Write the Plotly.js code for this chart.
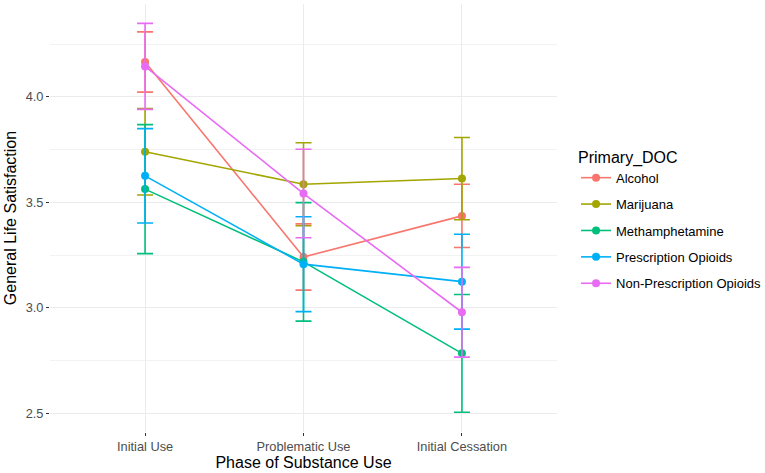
<!DOCTYPE html>
<html>
<head>
<meta charset="utf-8">
<script src="https://cdn.plot.ly/plotly-3.0.1.min.js"></script>
<style>
  html, body { margin: 0; padding: 0; background: #fff; }
  #chart { width: 765px; height: 473px; }
</style>
</head>
<body>
<div id="chart"></div>
<script>
var phases = ['Initial Use', 'Problematic Use', 'Initial Cessation'];

var alcohol = [4.166, 3.241, 3.436];
var alcoholErr = [0.143, 0.157, 0.150];
var marijuana = [3.740, 3.586, 3.613];
var marijuanaErr = [0.205, 0.197, 0.195];
var meth = [3.563, 3.218, 2.784];
var methErr = [0.306, 0.281, 0.279];
var rxOpioids = [3.626, 3.207, 3.124];
var rxOpioidsErr = [0.224, 0.225, 0.225];
var nonRxOpioids = [4.145, 3.542, 2.979];
var nonRxOpioidsErr = [0.204, 0.210, 0.213];

var groups = [
  ['Alcohol', alcohol, alcoholErr, '#F8766D'],
  ['Marijuana', marijuana, marijuanaErr, '#A3A500'],
  ['Methamphetamine', meth, methErr, '#00BF7D'],
  ['Prescription Opioids', rxOpioids, rxOpioidsErr, '#00B0F6'],
  ['Non-Prescription Opioids', nonRxOpioids, nonRxOpioidsErr, '#E76BF3']
];

var data = groups.map(function (g) {
  return {
    x: phases,
    y: g[1],
    name: g[0],
    legendgroup: g[0],
    type: 'scatter',
    mode: 'lines+markers',
    line: {color: g[3], width: 1.6},
    marker: {color: g[3], size: 8},
    error_y: {type: 'data', array: g[2], visible: true, color: g[3], thickness: 1.6, width: 8}
  };
});

var layout = {
  width: 765,
  height: 473,
  margin: {l: 50, r: 208, t: 4, b: 41},
  paper_bgcolor: '#fff',
  plot_bgcolor: '#fff',
  font: {family: 'Liberation Sans, Arial, sans-serif', color: '#000'},
  showlegend: true,
  xaxis: {
    type: 'category',
    range: [-0.6, 2.6],
    showgrid: true,
    gridcolor: '#EBEBEB',
    gridwidth: 1.2,
    zeroline: false,
    showline: false,
    ticks: 'outside',
    ticklen: 3,
    tickcolor: '#333',
    tickfont: {size: 12.8, color: '#4D4D4D'},
    title: {text: 'Phase of Substance Use', font: {size: 16, color: '#000'}, standoff: 2}
  },
  yaxis: {
    range: [2.411, 4.441],
    tickvals: [2.5, 3.0, 3.5, 4.0],
    tickformat: '.1f',
    showgrid: true,
    gridcolor: '#EBEBEB',
    gridwidth: 1.2,
    minor: {tickvals: [2.75, 3.25, 3.75, 4.25], showgrid: true, gridcolor: '#F2F2F2', gridwidth: 1, ticks: ''},
    zeroline: false,
    showline: false,
    ticks: 'outside',
    ticklen: 3,
    tickcolor: '#333',
    tickfont: {size: 12.8, color: '#4D4D4D'},
    title: {text: 'General Life Satisfaction', font: {size: 16, color: '#000'}, standoff: 5}
  },
  legend: {
    xref: 'container',
    yref: 'container',
    x: 0.753,
    xanchor: 'left',
    y: 0.534,
    yanchor: 'middle',
    tracegroupgap: 6.5,
    font: {size: 13, color: '#000'},
    title: {text: 'Primary_DOC', font: {size: 16, color: '#000'}}
  }
};

Plotly.newPlot('chart', data, layout, {displayModeBar: false});
</script>
</body>
</html>
